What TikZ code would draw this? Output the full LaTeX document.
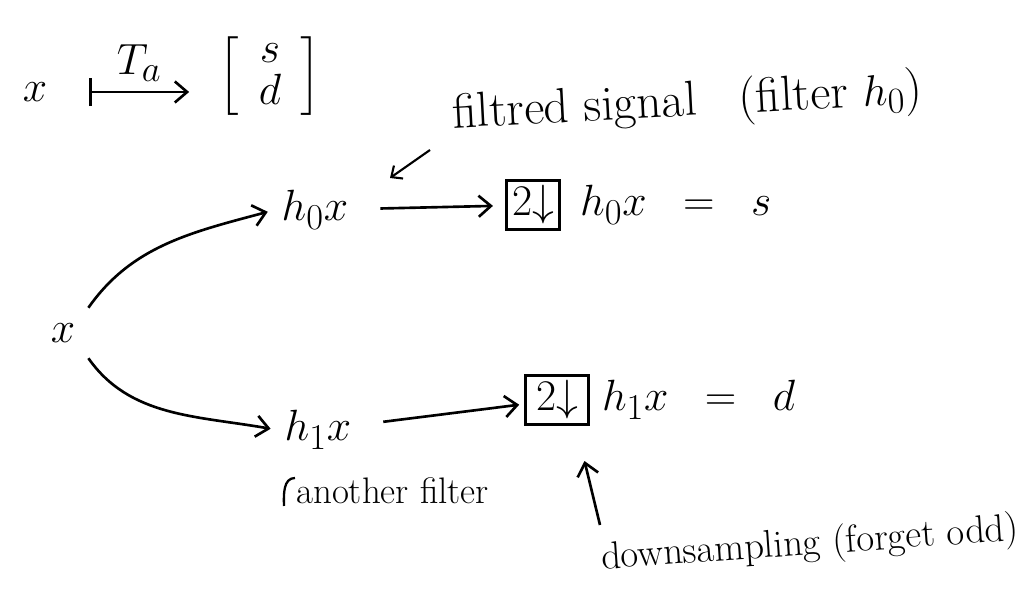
\documentclass[tikz,border=0pt]{standalone}
\usepackage{fontspec,amsmath}
\usetikzlibrary{arrows.meta,calc,positioning}

\begin{document}
\begin{tikzpicture}[x=1cm,y=1cm,>={Straight Barb[length=7pt,width=12pt]},line width=1.5pt,
 font=\fontsize{30}{34}\selectfont,
 note/.style={font=\fontsize{28}{31}\selectfont},
 dbox/.style={draw,line width=1.5pt,inner sep=3pt}]
\useasboundingbox (0,0) rectangle (20.52,12.02);
% top line: the map
\node (xtop) at (0.7,10.18) {$x$};
\node[font=\fontsize{26}{28}\selectfont] (vec) at (5.4,10.5)
 {\renewcommand{\arraystretch}{0.8}$\begin{bmatrix}\;\,s\;\,\\ \;\,d\;\,\end{bmatrix}$};
\draw[{Bar[width=16pt]}->] ([xshift=0.7cm]xtop.east) -- ([xshift=-0.45cm]vec.west |- xtop)
 node[midway,above=2pt] {$T_a$};
% the two branches
\node (xmid) at (1.26,5.36) {$x$};
\node (h0) at (6.3,7.82) {$h_0x$};
\node (h1) at (6.36,3.42) {$h_1x$};
\draw[->,shorten <=6pt,shorten >=4pt] (xmid.north east) to[out=55,in=195] (h0.west);
\draw[->,shorten <=6pt,shorten >=4pt] (xmid.south east) to[out=-55,in=170] (h1.west);
\node[dbox] (box0) at (10.66,7.92) {$2{\downarrow}$};
\node[dbox,inner xsep=6pt] (box1) at (11.14,4.02) {$2{\downarrow}$};
\node[right=0.25cm of box0] (s0) {$h_0x\;\;=\;\;s$};
\node[right=0.1cm of box1] (d1) {$h_1x\;\;=\;\;d$};
\draw[->,shorten <=0.5cm,shorten >=0.25cm] (h0) -- (box0);
\draw[->,shorten <=0.5cm,shorten >=0.1cm] (h1) -- (box1);
% notes
\node[note,rotate=3] (fnote) at (13.75,9.95) {filtred signal\;\; (filter $h_0$)};
\coordinate (ftail) at (8.6,9.02);
\draw[->,line width=1.2pt,>={Straight Barb[length=5pt,width=9pt]}] (ftail) -- (7.8,8.46);
\node[note,font=\fontsize{21}{24}\selectfont] (anote) at (7.85,2.2) {another filter};
\draw[line width=1.3pt] (5.68,1.9) to[out=92,in=180] (5.9,2.46);
\node[note,rotate=4,font=\fontsize{22}{26}\selectfont] (dnote) at (16.2,1.12) {downsampling (forget odd)};
\coordinate (dtail) at (12.0,1.52);
\draw[->] (dtail) -- ([xshift=0.55cm,yshift=-0.7cm]box1.south);
\end{tikzpicture}
\end{document}
